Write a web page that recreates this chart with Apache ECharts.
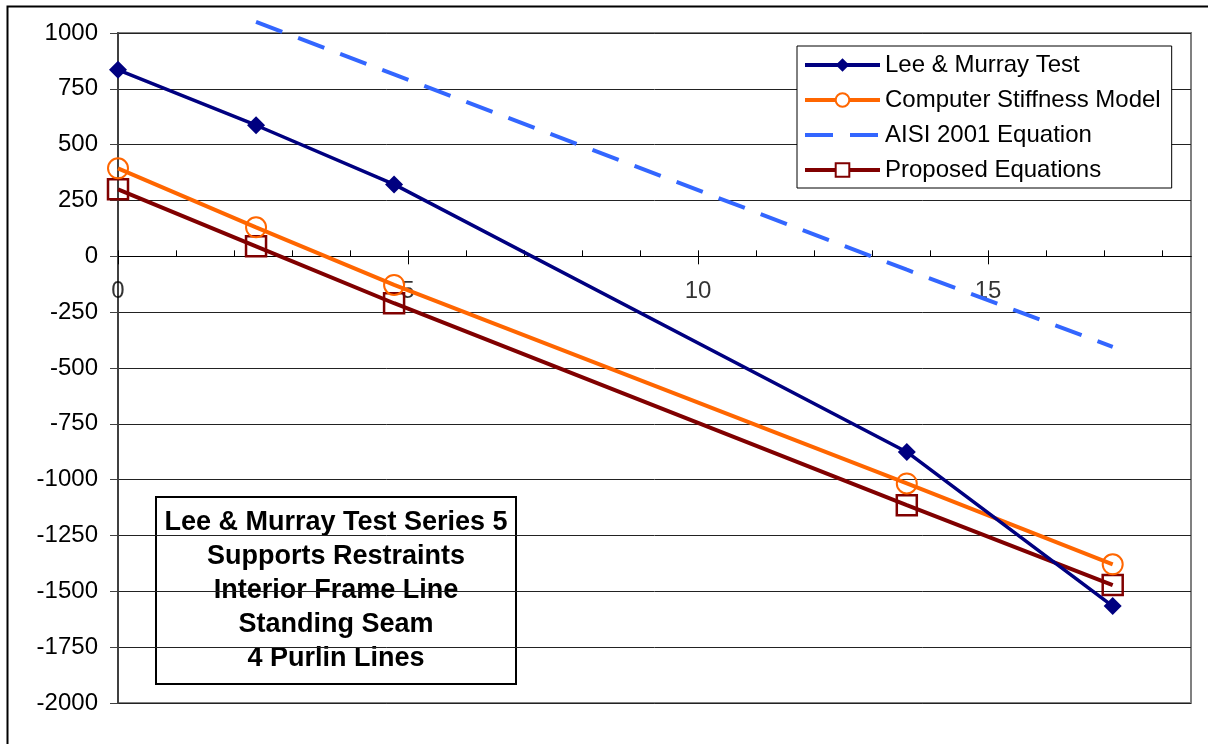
<!DOCTYPE html>
<html>
<head>
<meta charset="utf-8">
<script src="https://cdn.jsdelivr.net/npm/echarts@6/dist/echarts.min.js"></script>
<style>
html,body{margin:0;padding:0;background:#fff;}
#chart{width:1208px;height:744px;}
</style>
</head>
<body>
<div id="chart"></div>
<script>
const seriesNames = ['Lee & Murray Test', 'Computer Stiffness Model', 'AISI 2001 Equation', 'Proposed Equations'];
const xValues = [0, 2.38, 4.76, 13.6, 17.15];
const leeMurray = [835, 587, 322, -876, -1566];
const computerModel = [394, 130, -128, -1017, -1379];
const aisi2001 = [null, 1050, 815, -60, -405];
const proposed = [300, 45, -210, -1114, -1472];
const xMajorTicks = [0, 5, 10, 15];
const xMinorTicks = [0, 1, 2, 3, 4, 5, 6, 7, 8, 9, 10, 11, 12, 13, 14, 15, 16, 17, 18];
const xMin = 0, xMax = 18.5;
const yMin = -2000, yMax = 1000, yInterval = 250;
const boxLines = ['Lee & Murray Test Series 5', 'Supports Restraints', 'Interior Frame Line', 'Standing Seam', '4 Purlin Lines'];

const FONT = '"Liberation Sans", Arial, sans-serif';
function pairs(ys) {
  const out = [];
  ys.forEach((y, i) => { if (y !== null) out.push([xValues[i], y]); });
  return out;
}

const chart = echarts.init(document.getElementById('chart'), null, {renderer: 'canvas'});
chart.setOption({
  animation: false,
  backgroundColor: '#fff',
  textStyle: {fontFamily: FONT},
  grid: {left: 118, top: 33, right: 17, bottom: 41, show: true, borderColor: '#808080', borderWidth: 2, backgroundColor: 'transparent'},
  legend: {
    orient: 'vertical', left: 797, top: 46,
    itemWidth: 75, itemHeight: 17, itemGap: 11,
    padding: [7, 11, 6, 6],
    backgroundColor: '#fff', borderColor: '#000', borderWidth: 1, borderRadius: 0,
    textStyle: {fontSize: 24, color: '#000', fontFamily: FONT, lineHeight: 24},
    lineStyle: {width: 4},
    data: [
      {name: seriesNames[0]},
      {name: seriesNames[1], itemStyle: {color: '#fff'}},
      {name: seriesNames[2], itemStyle: {opacity: 0}},
      {name: seriesNames[3], itemStyle: {color: '#fff'}}
    ]
  },
  xAxis: [
    {
      type: 'value', min: xMin, max: xMax, position: 'bottom',
      axisLine: {show: true, onZero: true, onZeroAxisIndex: 0, lineStyle: {color: '#000', width: 1}},
      axisTick: {show: true, length: 8, customValues: xMajorTicks, lineStyle: {color: '#000', width: 1}},
      axisLabel: {show: false},
      splitLine: {show: false}
    },
    {
      type: 'value', min: xMin, max: xMax, position: 'top',
      axisLine: {show: true, onZero: true, onZeroAxisIndex: 0, lineStyle: {color: '#000', width: 1}},
      axisTick: {show: true, length: 6, customValues: xMinorTicks, lineStyle: {color: '#000', width: 1}},
      axisLabel: {show: false},
      splitLine: {show: false}
    }
  ],
  yAxis: {
    type: 'value', min: yMin, max: yMax, interval: yInterval,
    axisLine: {show: true, onZero: false, lineStyle: {color: '#404040', width: 2}},
    axisTick: {show: true, length: 8, lineStyle: {color: '#404040', width: 1}},
    axisLabel: {fontSize: 24, color: '#000', margin: 20, fontFamily: FONT, formatter: v => String(v)},
    splitLine: {show: true, lineStyle: {color: '#222', width: 1}}
  },
  series: [
    {
      name: seriesNames[0], type: 'line', data: pairs(leeMurray),
      symbol: 'diamond', symbolSize: 18,
      lineStyle: {color: '#000080', width: 3.5},
      itemStyle: {color: '#000080'}, z: 5
    },
    {
      name: seriesNames[1], type: 'line', data: pairs(computerModel),
      symbol: 'circle', symbolSize: 20,
      lineStyle: {color: '#FF6600', width: 4},
      itemStyle: {color: 'rgba(255,255,255,0)', borderColor: '#FF6600', borderWidth: 2}, z: 4
    },
    {
      name: seriesNames[2], type: 'line', data: pairs(aisi2001),
      symbol: 'none', clip: false,
      lineStyle: {color: '#3366FF', width: 4, type: [28, 17]},
      itemStyle: {color: '#3366FF'}, z: 3
    },
    {
      name: seriesNames[3], type: 'line', data: pairs(proposed),
      symbol: 'rect', symbolSize: 20,
      lineStyle: {color: '#800000', width: 4},
      itemStyle: {color: 'rgba(255,255,255,0)', borderColor: '#800000', borderWidth: 2.5}, z: 3
    },
    {
      name: 'xTickLabels', type: 'scatter', silent: true, z: 1,
      data: xMajorTicks.map(v => [v, 0]),
      symbolSize: 0,
      label: {show: true, position: 'bottom', distance: 23, fontSize: 24, color: '#000', fontFamily: FONT,
        formatter: p => String(p.value[0])}
    }
  ],
  graphic: [
    {
      type: 'rect', left: 5, top: 4, z: -10, silent: true,
      shape: {width: 1220, height: 760},
      style: {fill: 'none', stroke: '#000', lineWidth: 2}
    },
    {
      type: 'group', left: 155, top: 496, z: 10,
      children: [
        {type: 'rect', shape: {x: 0, y: 0, width: 360, height: 187}, style: {fill: '#fff', stroke: '#000', lineWidth: 2}},
        {type: 'text', x: 180, y: 94, style: {text: boxLines.join('\n'), font: 'bold 27px ' + FONT, lineHeight: 34, align: 'center', verticalAlign: 'middle', fill: '#000'}}
      ]
    }
  ]
});
</script>
</body>
</html>
